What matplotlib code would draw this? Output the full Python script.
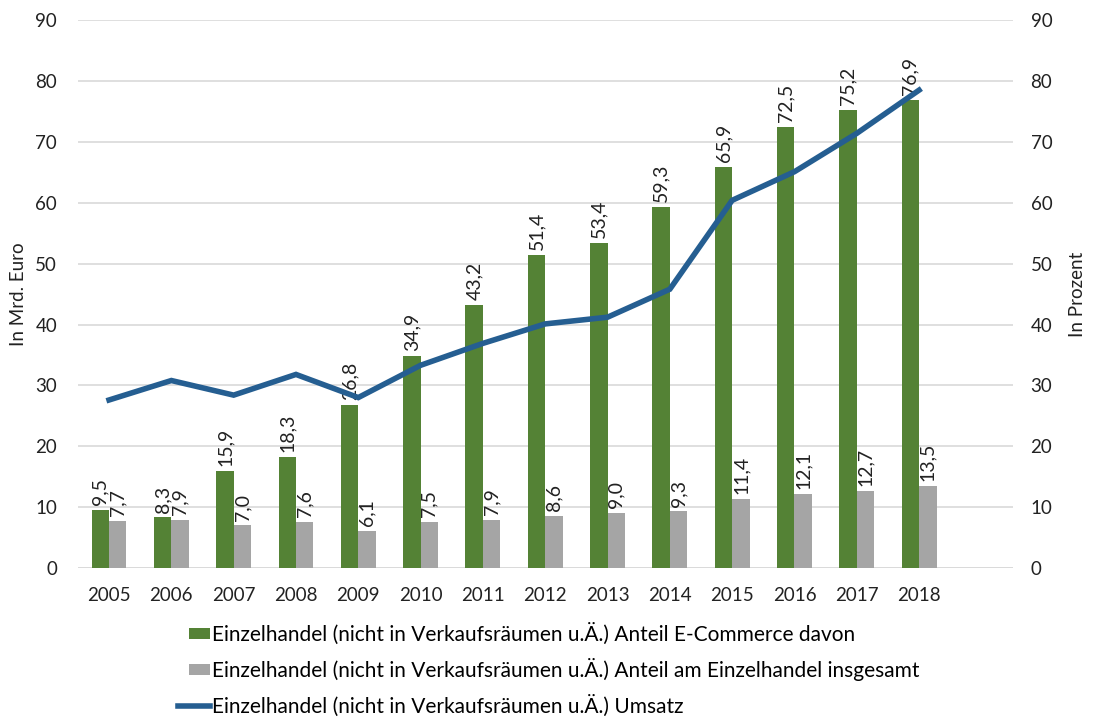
import matplotlib.pyplot as plt
import numpy as np
from matplotlib.patches import Rectangle
from matplotlib.legend_handler import HandlerPatch

plt.rcParams['font.family'] = ['Lato', 'DejaVu Sans']

# data
years = ['2005', '2006', '2007', '2008', '2009', '2010', '2011', '2012', '2013',
         '2014', '2015', '2016', '2017', '2018', '']
ecom = [9.5, 8.3, 15.9, 18.3, 26.8, 34.9, 43.2, 51.4, 53.4, 59.3, 65.9, 72.5, 75.2, 76.9]
anteil = [7.7, 7.9, 7.0, 7.6, 6.1, 7.5, 7.9, 8.6, 9.0, 9.3, 11.4, 12.1, 12.7, 13.5]
umsatz = [27.6, 30.8, 28.4, 31.8, 28.0, 33.3, 36.9, 40.1, 41.2, 45.8, 60.4, 65.1, 71.4, 78.5]

lab_ecom = 'Einzelhandel (nicht in Verkaufsräumen u.Ä.) Anteil E-Commerce davon'
lab_anteil = 'Einzelhandel (nicht in Verkaufsräumen u.Ä.) Anteil am Einzelhandel insgesamt'
lab_umsatz = 'Einzelhandel (nicht in Verkaufsräumen u.Ä.) Umsatz'

green = '#548235'
grey = '#A5A5A5'
blue = '#255E91'
txt = '#222222'

fig = plt.figure(figsize=(10.97, 7.19), dpi=100)
ax = fig.add_axes([0.071, 0.21, 0.852, 0.762])
ax2 = ax.twinx()

x = np.arange(len(ecom))
w = 0.28
b1 = ax.bar(x - w/2, ecom, w, color=green, label=lab_ecom, zorder=3)
b2 = ax.bar(x + w/2, anteil, w, color=grey, label=lab_anteil, zorder=3)
l1, = ax2.plot(x, umsatz, color=blue, lw=4, label=lab_umsatz, solid_joinstyle='miter')

# data labels (rotated)
for xi, v in zip(x, ecom):
    ax.text(xi - w/2, v + 0.8, '{:.1f}'.format(v).replace('.', ','), rotation=90,
            ha='center', va='bottom', fontsize=14, color=txt, zorder=5)
for xi, v in zip(x, anteil):
    ax.text(xi + w/2, v + 0.8, '{:.1f}'.format(v).replace('.', ','), rotation=90,
            ha='center', va='bottom', fontsize=14, color=txt, zorder=5)

for a in (ax, ax2):
    a.set_ylim(0, 90)
    a.set_yticks(range(0, 91, 10))
    a.tick_params(length=0, labelsize=13.5, colors=txt)
    for s in a.spines.values():
        s.set_visible(False)
ax.tick_params(axis='y', pad=15)
ax2.tick_params(axis='y', pad=13)
ax.set_xlim(-0.5, len(years) - 0.5)
ax.set_xticks(np.arange(len(years)))
ax.set_xticklabels(years)
ax.tick_params(axis='x', pad=14)
ax.grid(axis='y', color='#D9D9D9', lw=1.2, zorder=0)
ax.axhline(0, color='#D9D9D9', lw=1.2, zorder=1)
ax.set_axisbelow(True)

ax.set_ylabel('In Mrd. Euro', fontsize=13.5, color=txt, labelpad=6)
ax2.set_ylabel('In Prozent', fontsize=13.5, color=txt, labelpad=12)


def small_box(legend, orig_handle, xdescent, ydescent, width, height, fontsize):
    bw = width * 0.66
    bh = height * 0.75
    return Rectangle((-xdescent + width - bw, -ydescent + (height - bh) / 2), bw, bh)


p1 = b1.patches[0]
p2 = b2.patches[0]
fig.legend(handles=[p1, p2, l1], labels=[lab_ecom, lab_anteil, lab_umsatz],
           loc='upper left', bbox_to_anchor=(0.155, 0.146),
           frameon=False, fontsize=15, labelspacing=0.66, handlelength=1.5,
           handletextpad=0.1, borderaxespad=0,
           handler_map={p1: HandlerPatch(patch_func=small_box),
                        p2: HandlerPatch(patch_func=small_box)})

fig.savefig('out.png', dpi=100)
